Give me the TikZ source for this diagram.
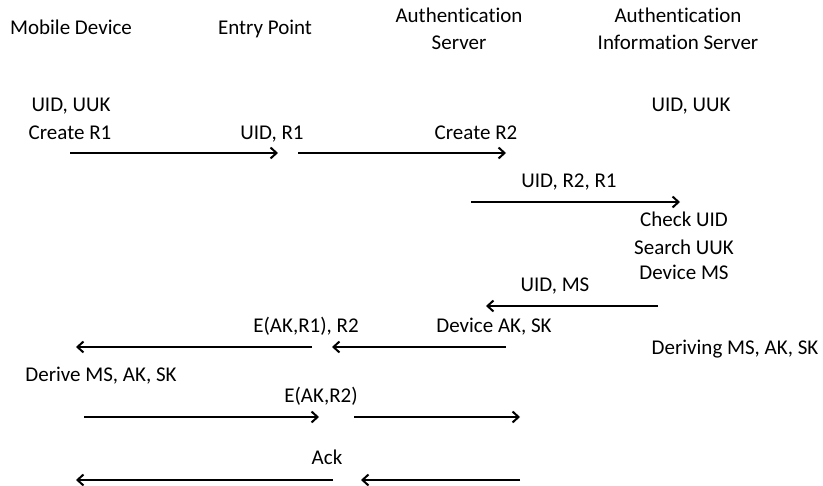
\documentclass[tikz,border=0pt]{standalone}
\usepackage{fontspec}
\setmainfont[Ligatures={NoCommon,NoRequired,NoContextual}]{Carlito}
\usetikzlibrary{arrows.meta}
\newcommand{\authword}{Authent\kern0pt ication}
\begin{document}
\begin{tikzpicture}[x=1pt,y=-1pt,
  lbl/.style={anchor=base,inner sep=0pt,font=\fontsize{21}{27}\selectfont,align=center},
  msg/.style={line width=2pt,-{Straight Barb[length=6pt,width=11pt,line width=2pt]}}]
\useasboundingbox[fill=white] (0,0) rectangle (823,486);
% headers
\node[lbl] (hmd) at (71,35) {Mobile Device};
\node[lbl] (hep) at (265,35) {Entry Point};
\node[lbl] (has1) at (459,23) {\authword};
\node[lbl] (has2) at (459,50) {Server};
\node[lbl] (hai1) at (678,23) {\authword};
\node[lbl] (hai2) at (678,50) {Information Server};
% texts
\node[lbl] (t1) at (71,112) {UID, UUK};
\node[lbl] (t2) at (70,140) {Create R1};
\node[lbl] (t3) at (272,140) {UID, R1};
\node[lbl] (t4) at (476,140) {Create R2};
\node[lbl] (t5) at (691,112) {UID, UUK};
\node[lbl] (t6) at (569,188) {UID, R2, R1};
\node[lbl] (t7) at (684,227) {Check UID};
\node[lbl] (t8) at (684,255) {Search UUK};
\node[lbl] (t9) at (684,280) {Device MS};
\node[lbl] (t10) at (555,292) {UID, MS};
\node[lbl] (t11) at (306,333) {E(AK,R1), R2};
\node[lbl] (t12) at (494,333) {Device AK, SK};
\node[lbl] (t13) at (735,355) {Deriving MS, AK, SK};
\node[lbl] (t14) at (101,382) {Derive MS, AK, SK};
\node[lbl] (t15) at (321,403) {E(AK,R2)};
\node[lbl] (t16) at (327,465) {Ack};
% arrow end points
\coordinate (a1s) at (70,153);  \coordinate (a1e) at (278,153);
\coordinate (a2s) at (298,153); \coordinate (a2e) at (506,153);
\coordinate (a3s) at (471,202); \coordinate (a3e) at (680,202);
\coordinate (a4s) at (658,306); \coordinate (a4e) at (486,306);
\coordinate (a5s) at (312,347); \coordinate (a5e) at (76,347);
\coordinate (a6s) at (506,347); \coordinate (a6e) at (332,347);
\coordinate (a7s) at (84,417);  \coordinate (a7e) at (319,417);
\coordinate (a8s) at (354,417); \coordinate (a8e) at (520,417);
\coordinate (a9s) at (333,480); \coordinate (a9e) at (76,480);
\coordinate (a10s) at (520,480); \coordinate (a10e) at (361,480);
\foreach \i in {1,...,10} {\draw[msg] (a\i s) -- (a\i e);}
\end{tikzpicture}
\end{document}
